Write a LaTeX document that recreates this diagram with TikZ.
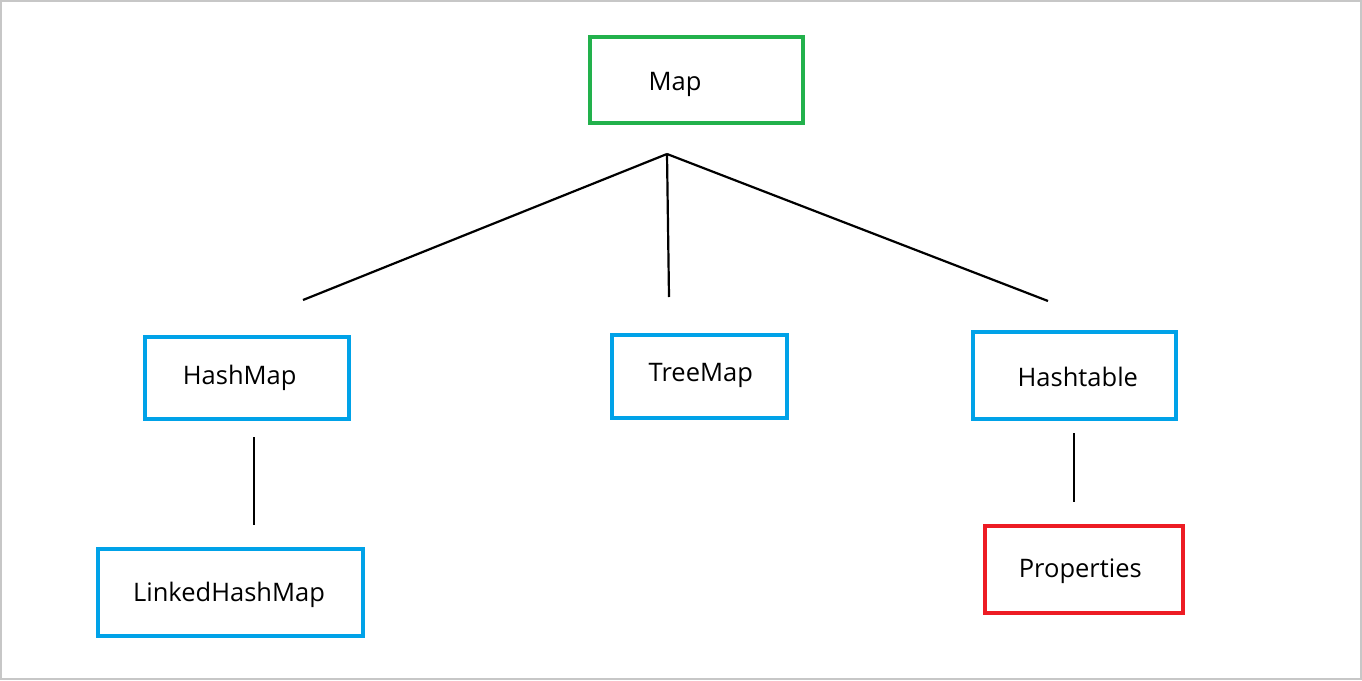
\documentclass[tikz,border=0pt]{standalone}
\usepackage{fontspec}
\setmainfont{Open Sans}
\definecolor{mapgreen}{RGB}{34,177,76}
\definecolor{clsblue}{RGB}{0,162,232}
\definecolor{clsred}{RGB}{237,28,36}
\tikzset{
  box/.style={rectangle, line width=4.5pt, inner sep=0pt},
  lbl/.style={font=\fontsize{25.5}{30}\selectfont, inner sep=0pt, anchor=base},
  edge/.style={line width=2.2pt, black}
}
\begin{document}
\begin{tikzpicture}[x=1pt, y=-1pt]
\useasboundingbox (0,0) rectangle (1362,680);
\draw[line width=2pt, black!22] (1,1) rectangle (1361,679);
% boxes
\node[box, draw=mapgreen, minimum width=213, minimum height=86] (map) at (696.5,80) {};
\node[box, draw=clsblue, minimum width=204, minimum height=82] (hashmap) at (247,378) {};
\node[box, draw=clsblue, minimum width=175, minimum height=83] (treemap) at (699.5,376.5) {};
\node[box, draw=clsblue, minimum width=203, minimum height=87] (hashtable) at (1074.5,375.5) {};
\node[box, draw=clsblue, minimum width=265, minimum height=87] (linked) at (230.5,592.5) {};
\node[box, draw=clsred, minimum width=198, minimum height=87] (props) at (1084,569.5) {};
% texts, placed on their baselines
\node[lbl] (maptxt) at (675,90.7) {Map};
\node[lbl] (hashmaptxt) at (239.7,384.3) {HashMap};
\node[lbl] (treemaptxt) at (700.8,381.7) {TreeMap};
\node[lbl] (hashtabletxt) at (1077.8,386) {Hashtable};
\node[lbl] (linkedtxt) at (229,601.7) {LinkedHashMap};
\node[lbl] (propstxt) at (1080.3,577.3) {Properties};
% connectors
\coordinate (root) at (667,154);
\coordinate (c1) at (303,300);
\coordinate (c2) at (669,297);
\coordinate (c3) at (1048,301);
\coordinate (h1) at (254,437);
\coordinate (h2) at (254,525);
\coordinate (t1) at (1074,433);
\coordinate (t2) at (1074,502);
\draw[edge] (root) -- (c1);
\draw[edge] (root) -- (c2);
\draw[edge] (root) -- (c3);
\draw[edge] (h1) -- (h2);
\draw[edge] (t1) -- (t2);
\end{tikzpicture}
\end{document}
